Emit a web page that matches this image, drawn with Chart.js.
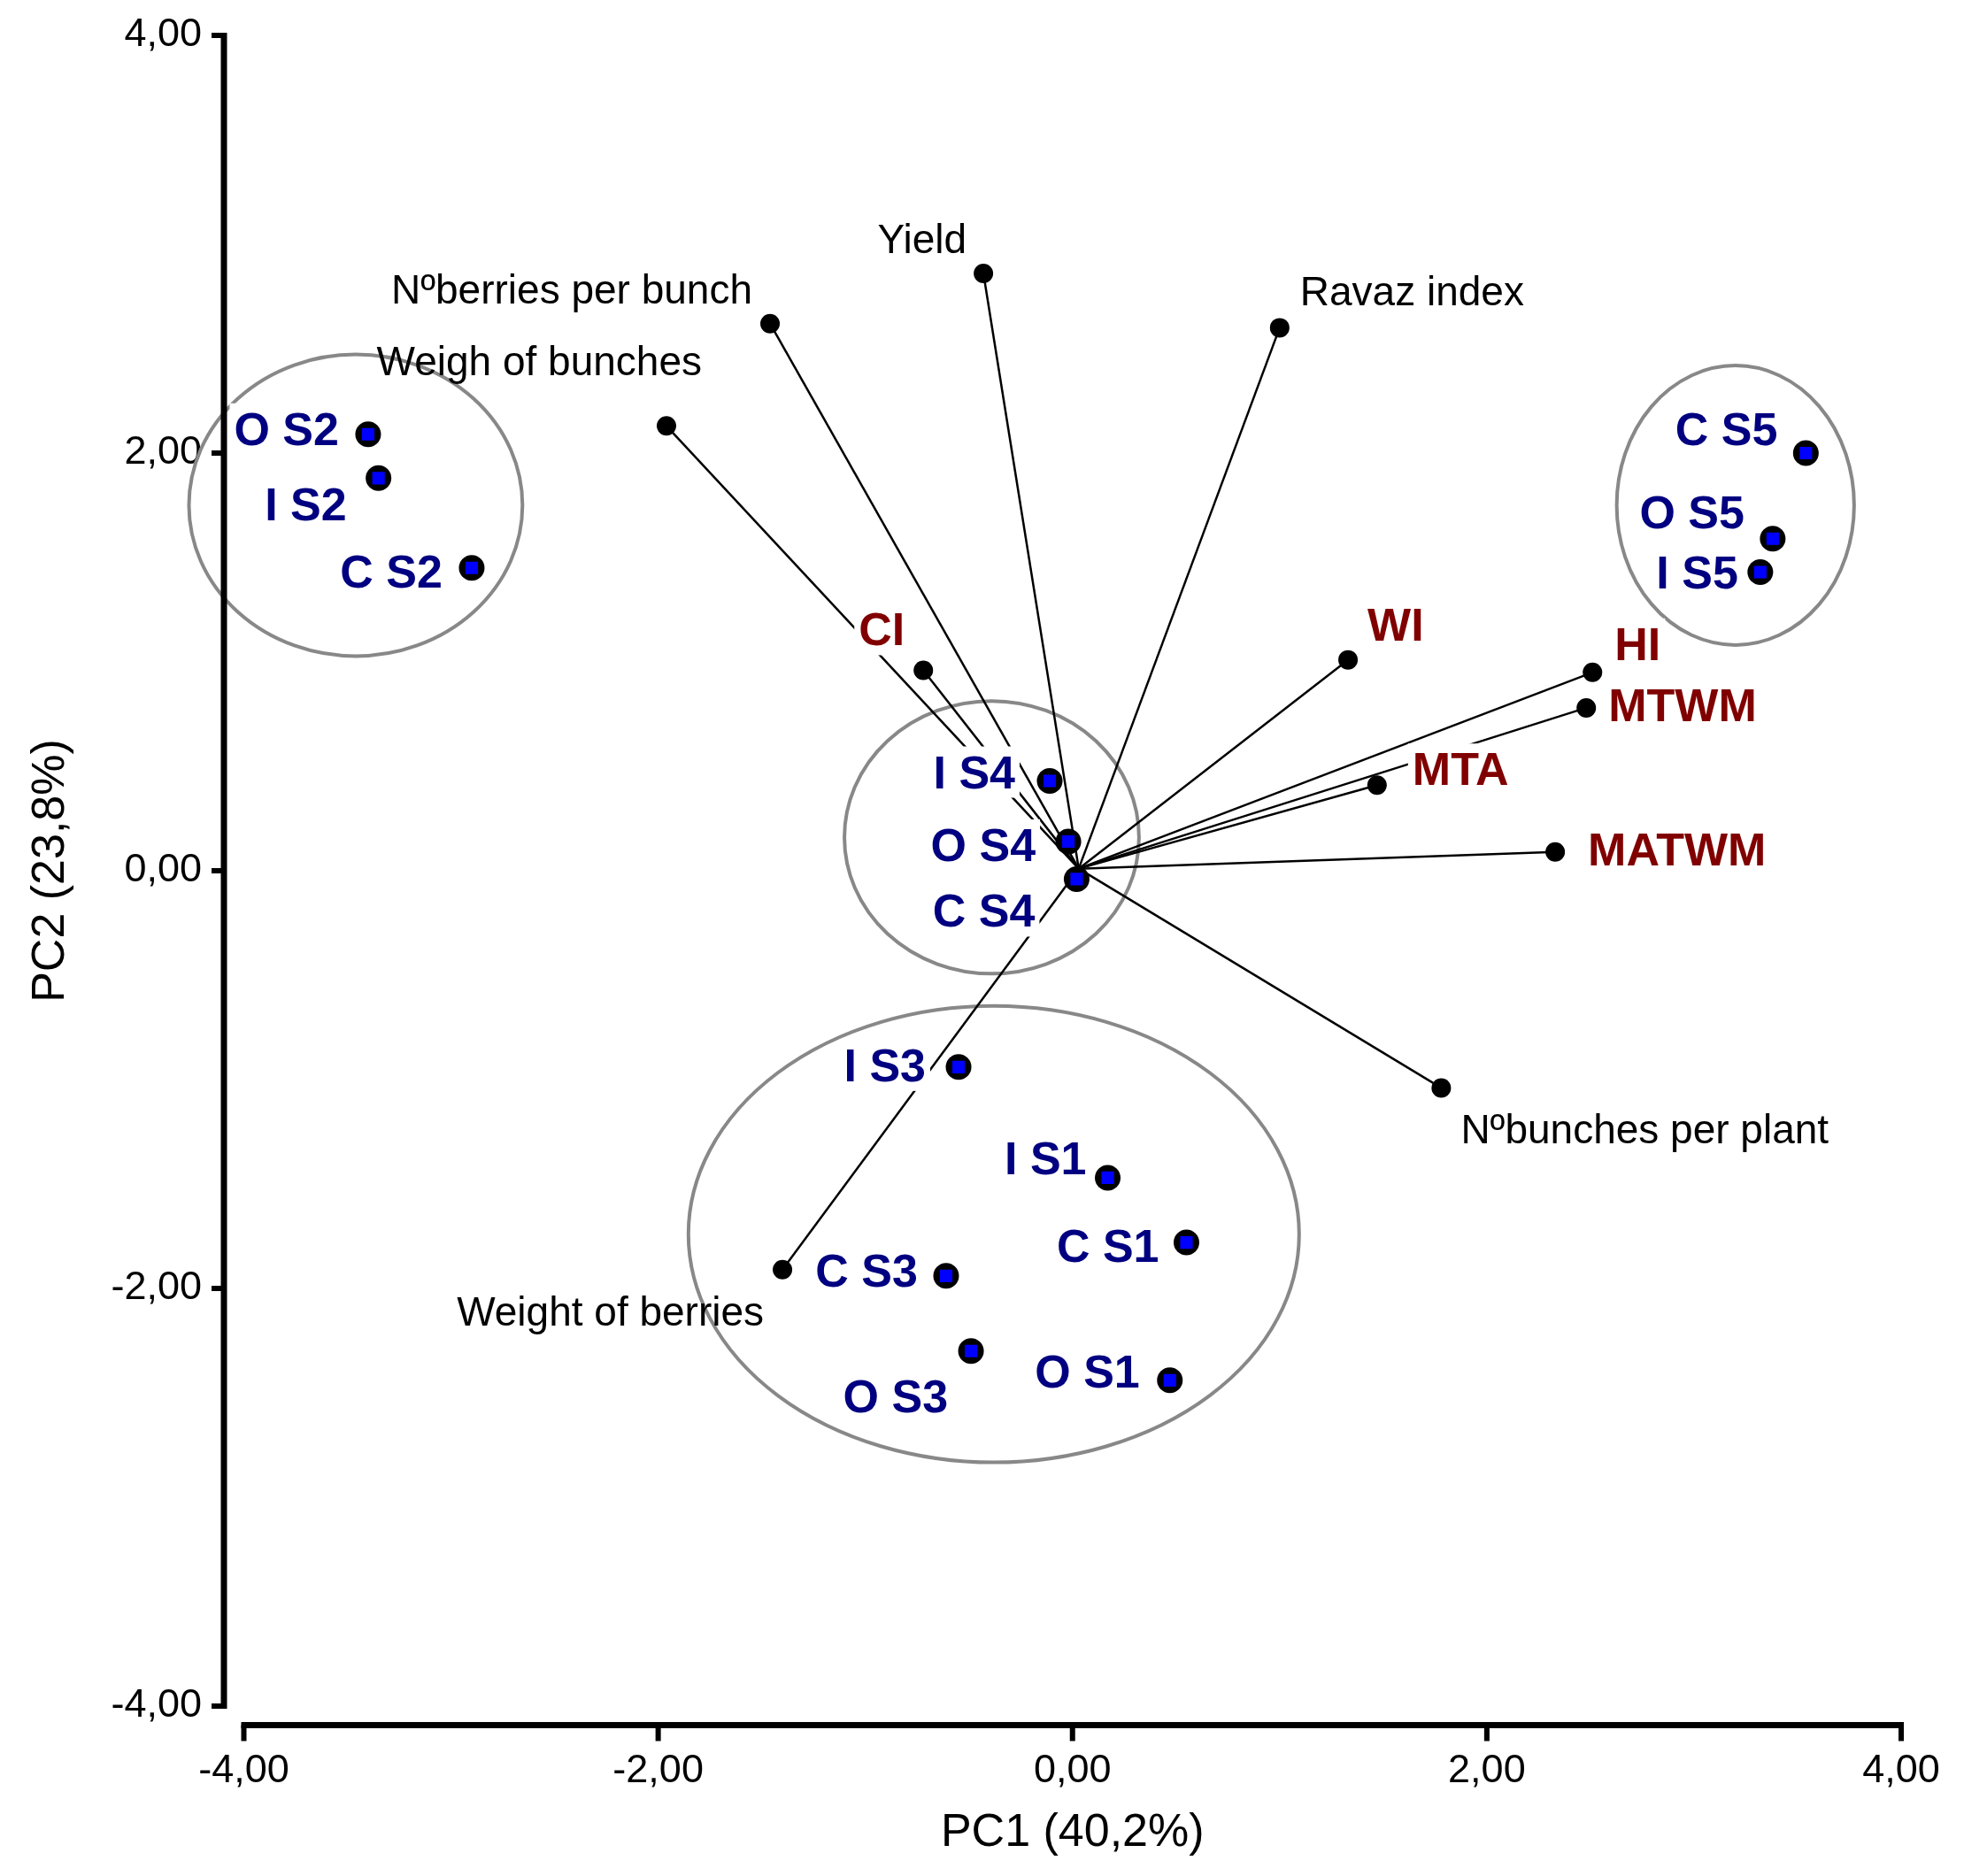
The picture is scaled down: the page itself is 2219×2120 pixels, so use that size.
<!DOCTYPE html>
<html>
<head>
<meta charset="utf-8">
<script src="https://cdn.jsdelivr.net/npm/chart.js@4.4.0/dist/chart.umd.min.js"></script>
<style>
html, body { margin: 0; padding: 0; background: #ffffff; }
#wrap { width: 2219px; height: 2120px; position: relative; }
</style>
</head>
<body>
<div id="wrap"><canvas id="c" width="2219" height="2120"></canvas></div>
<script>
// ---------------- data ----------------
const tickValues = [-4, -2, 0, 2, 4];
const xAxisTitle = 'PC1 (40,2%)';
const yAxisTitle = 'PC2 (23,8%)';

const sampleNames = ['O S1', 'C S1', 'I S1', 'O S2', 'C S2', 'I S2', 'O S3', 'C S3', 'I S3', 'O S4', 'C S4', 'I S4', 'O S5', 'C S5', 'I S5'];
const samplePC1 = [0.47, 0.55, 0.17, -3.40, -2.90, -3.35, -0.49, -0.61, -0.55, -0.02, 0.02, -0.11, 3.38, 3.54, 3.32];
const samplePC2 = [-2.44, -1.78, -1.47, 2.09, 1.45, 1.88, -2.30, -1.94, -0.94, 0.14, -0.04, 0.43, 1.59, 2.00, 1.43];

const variableNames = ['Yield', 'N\u00baberries per bunch', 'Weigh of bunches', 'Ravaz index', 'CI', 'WI', 'HI', 'MTWM', 'MTA', 'MATWM', 'N\u00babunches per plant', 'Weight of berries'];
const variablePC1 = [-0.43, -1.46, -1.96, 1.00, -0.72, 1.33, 2.51, 2.48, 1.47, 2.33, 1.78, -1.40];
const variablePC2 = [2.86, 2.62, 2.13, 2.60, 0.96, 1.01, 0.95, 0.78, 0.41, 0.09, -1.04, -1.91];
const loadingOrigin = [0.03, 0.01];

const groupNames = ['S2', 'S5', 'S4', 'S1 + S3'];
const groupPC1 = [-3.46, 3.20, -0.39, -0.38];
const groupPC2 = [1.75, 1.75, 0.16, -1.74];
const groupHalfWidth = [0.805, 0.573, 0.711, 1.474];
const groupHalfHeight = [0.722, 0.669, 0.653, 1.093];

// ---------------- layout / style ----------------
const FAM = '"Liberation Sans", Arial, sans-serif';
const redVariables = ['CI', 'WI', 'HI', 'MTWM', 'MTA', 'MATWM'];
// [align, dx, dy] : pixel offset of label anchor (baseline) from its point
const sampleLabelPlace = [
  ['right', -34, 8], ['right', -31, 22], ['right', -24, -4],
  ['right', -33, 12], ['right', -33, 22], ['right', -36, 48],
  ['right', -26, 69], ['right', -32, 12], ['right', -37, 16],
  ['right', -37, 22], ['right', -47, 54], ['right', -39, 8],
  ['right', -32, -12], ['right', -32, -9], ['right', -25, 18]
];
const variableLabelPlace = [
  ['right', -19, -23], ['right', -20, -23], ['right', 40, -57], ['left', 23, -25],
  ['right', -21, -28], ['left', 22, -22], ['left', 25, -14], ['left', 25, 15],
  ['left', 40, 0], ['left', 37, 15], ['left', 22, 63], ['right', -21, 63]
];

const VAR_DOTS_INDEX = variableNames.length;

function drawLabel(ctx, text, px, py, place, fontStr, color, box) {
  ctx.font = fontStr;
  ctx.textAlign = place[0];
  ctx.textBaseline = 'alphabetic';
  const m = ctx.measureText(text);
  const w = m.width;
  const asc = m.fontBoundingBoxAscent || 47;
  const desc = m.fontBoundingBoxDescent || 11;
  const ax = px + place[1], ay = py + place[2];
  const left = place[0] === 'right' ? ax - w : ax;
  if (box) {
    ctx.fillStyle = '#ffffff';
    ctx.fillRect(left - 5, ay - asc, w + 10, asc + desc);
  }
  ctx.fillStyle = color;
  ctx.fillText(text, ax, ay);
}

const biplotPlugin = {
  id: 'biplotPlugin',
  beforeDatasetsDraw(chart) {
    const { ctx, chartArea: a, scales: { x, y } } = chart;
    ctx.save();
    // group ellipses
    ctx.strokeStyle = '#888888';
    ctx.lineWidth = 4;
    groupNames.forEach((g, i) => {
      const cx = x.getPixelForValue(groupPC1[i]);
      const cy = y.getPixelForValue(groupPC2[i]);
      const rx = Math.abs(x.getPixelForValue(groupPC1[i] + groupHalfWidth[i]) - cx);
      const ry = Math.abs(y.getPixelForValue(groupPC2[i] + groupHalfHeight[i]) - cy);
      ctx.beginPath();
      ctx.ellipse(cx, cy, rx, ry, 0, 0, Math.PI * 2);
      ctx.stroke();
    });
    // detached axes
    ctx.fillStyle = '#000000';
    const axX = a.left - 22.5;
    const axY = a.bottom + 21.5;
    const yTop = y.getPixelForValue(tickValues[tickValues.length - 1]);
    const yBot = y.getPixelForValue(tickValues[0]);
    const xL = x.getPixelForValue(tickValues[0]);
    const xR = x.getPixelForValue(tickValues[tickValues.length - 1]);
    ctx.fillRect(axX - 3.5, yTop - 3, 7, yBot - yTop + 6);
    ctx.fillRect(xL - 3, axY - 3.5, xR - xL + 6, 7);
    tickValues.forEach(v => {
      const py = y.getPixelForValue(v);
      ctx.fillRect(axX - 14, py - 3, 14, 6);
      const px = x.getPixelForValue(v);
      ctx.fillRect(px - 3, axY, 6, 18);
    });
    ctx.restore();
  },
  beforeDatasetDraw(chart, args) {
    if (args.index !== VAR_DOTS_INDEX) return;
    const { ctx, scales: { x, y } } = chart;
    ctx.save();
    variableNames.forEach((n, i) => {
      const px = x.getPixelForValue(variablePC1[i]);
      const py = y.getPixelForValue(variablePC2[i]);
      const red = redVariables.includes(n);
      drawLabel(ctx, n, px, py, variableLabelPlace[i],
        red ? 'bold 52px ' + FAM : '46px ' + FAM,
        red ? '#800000' : '#000000', red);
    });
    sampleNames.forEach((n, i) => {
      const px = x.getPixelForValue(samplePC1[i]);
      const py = y.getPixelForValue(samplePC2[i]);
      drawLabel(ctx, n, px, py, sampleLabelPlace[i], 'bold 52px ' + FAM, '#000080', true);
    });
    ctx.restore();
  }
};

// ---------------- datasets ----------------
const lineDatasets = variableNames.map((n, i) => ({
  label: n,
  data: [{ x: loadingOrigin[0], y: loadingOrigin[1] }, { x: variablePC1[i], y: variablePC2[i] }],
  showLine: true,
  borderColor: '#000000',
  borderWidth: 2.5,
  pointRadius: 0,
  pointHoverRadius: 0,
  fill: false,
  order: 10
}));

const variableDots = {
  label: 'Variables',
  data: variableNames.map((n, i) => ({ x: variablePC1[i], y: variablePC2[i] })),
  pointStyle: 'circle',
  pointRadius: 11,
  pointHoverRadius: 11,
  backgroundColor: '#000000',
  borderWidth: 0,
  showLine: false,
  order: 5
};

const sampleOuter = {
  label: 'Samples',
  data: sampleNames.map((n, i) => ({ x: samplePC1[i], y: samplePC2[i] })),
  pointStyle: 'circle',
  pointRadius: 14.5,
  pointHoverRadius: 14.5,
  backgroundColor: '#000000',
  borderWidth: 0,
  showLine: false,
  order: 2
};

const sampleInner = {
  label: 'Samples (fill)',
  data: sampleNames.map((n, i) => ({ x: samplePC1[i], y: samplePC2[i] })),
  pointStyle: 'rect',
  pointRadius: 10,
  pointHoverRadius: 10,
  backgroundColor: '#0000ff',
  borderWidth: 0,
  showLine: false,
  order: 1
};

const fmt = v => v.toFixed(2).replace('.', ',');

new Chart(document.getElementById('c'), {
  type: 'scatter',
  data: { datasets: [...lineDatasets, variableDots, sampleOuter, sampleInner] },
  options: {
    responsive: false,
    devicePixelRatio: 1,
    animation: false,
    events: [],
    layout: { padding: { left: 0, top: 40, right: 71, bottom: 0 } },
    plugins: { legend: { display: false }, tooltip: { enabled: false } },
    scales: {
      x: {
        type: 'linear',
        position: 'bottom',
        min: -4, max: 4,
        afterBuildTicks: s => { s.ticks = tickValues.map(v => ({ value: v })); },
        afterFit: s => { s.height = 192; s.paddingLeft = 0; s.paddingRight = 0; },
        grid: { display: false, drawTicks: false },
        border: { display: false },
        ticks: { callback: v => fmt(v), color: '#000000', padding: 47, maxRotation: 0, autoSkip: false, font: { family: FAM, size: 45 } },
        title: { display: true, text: xAxisTitle, color: '#000000', padding: { top: 0, bottom: 17 }, font: { family: FAM, size: 52 } }
      },
      y: {
        type: 'linear',
        position: 'left',
        min: -4, max: 4,
        afterBuildTicks: s => { s.ticks = tickValues.map(v => ({ value: v })); },
        afterFit: s => { s.width = 275.5; s.paddingTop = 0; s.paddingBottom = 0; },
        grid: { display: false, drawTicks: false },
        border: { display: false },
        ticks: { callback: v => fmt(v), color: '#000000', padding: 47.5, autoSkip: false, font: { family: FAM, size: 45 } },
        title: { display: true, text: yAxisTitle, color: '#000000', padding: { top: 26, bottom: 0 }, font: { family: FAM, size: 52 } }
      }
    }
  },
  plugins: [biplotPlugin]
});
</script>
</body>
</html>
